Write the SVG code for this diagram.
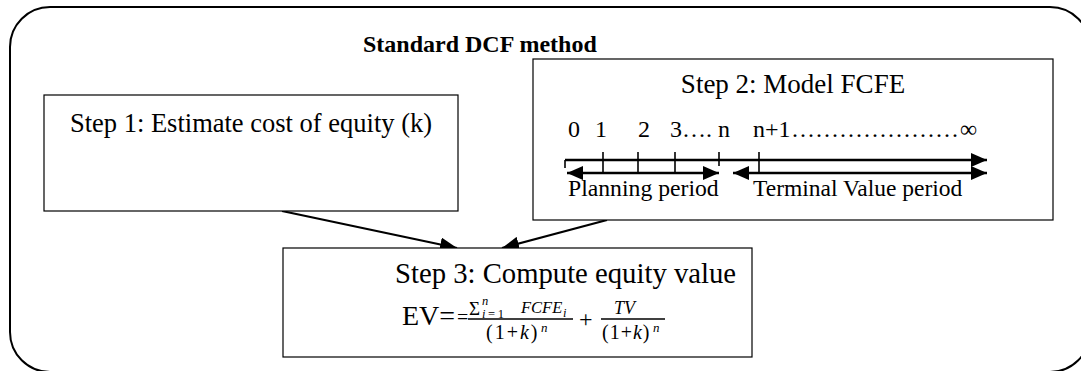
<svg xmlns="http://www.w3.org/2000/svg" width="1081" height="371" viewBox="0 0 1081 371">
  <style>
    .frame { fill: none; stroke: #000; stroke-width: 2; }
    .box { fill: #fff; stroke: #000; stroke-width: 1.2; }
    .txt { font-family: "Liberation Serif", "Times New Roman", serif; fill: #000; }
    .math { font-family: "Liberation Serif", "Times New Roman", serif; font-style: italic; fill: #000; }
    .conn { fill: none; stroke: #000; stroke-width: 2.2; }
    .axis { fill: none; stroke: #000; stroke-width: 2.4; }
    .tick { fill: none; stroke: #000; stroke-width: 1.6; }
    .bar { stroke: #000; stroke-width: 1.4; }
  </style>
  <defs>
    <marker id="head" markerUnits="userSpaceOnUse" markerWidth="18" markerHeight="14" refX="17" refY="7" orient="auto-start-reverse">
      <path d="M0,0 L17,7 L0,14 Z" fill="#000"/>
    </marker>
    <marker id="axisHead" markerUnits="userSpaceOnUse" markerWidth="17" markerHeight="14" refX="16" refY="7" orient="auto-start-reverse">
      <path d="M0,0 L16,7 L0,14 Z" fill="#000"/>
    </marker>
  </defs>

  <!-- outer rounded frame -->
  <rect class="frame" x="10" y="7" width="1080" height="365" rx="40" ry="40"/>
  <text class="txt" x="363" y="52" font-size="24" font-weight="bold">Standard DCF method</text>

  <!-- connectors -->
  <g id="connectors">
    <line class="conn" x1="282" y1="211" x2="457" y2="248" marker-end="url(#head)"/>
    <line class="conn" x1="607" y1="220" x2="502" y2="248" marker-end="url(#head)"/>
  </g>

  <!-- step 1 -->
  <g id="step1">
    <rect class="box" x="44" y="95" width="414" height="116"/>
    <text class="txt" x="251" y="132" font-size="26.5" text-anchor="middle">Step 1: Estimate cost of equity (k)</text>
  </g>

  <!-- step 2 with timeline -->
  <g id="step2">
    <rect class="box" x="533" y="59" width="520" height="161"/>
    <text class="txt" x="793" y="93" font-size="27" text-anchor="middle">Step 2: Model FCFE</text>
    <g class="txt" font-size="24">
      <text x="568" y="137">0</text>
      <text x="595" y="137">1</text>
      <text x="638" y="137">2</text>
      <text x="670" y="137">3…. n</text>
      <text x="753" y="137">n+1<tspan x="792" textLength="166" lengthAdjust="spacing">.....................</tspan><tspan x="960">∞</tspan></text>
    </g>
    <!-- time axis -->
    <line class="axis" x1="565" y1="160" x2="987" y2="160" marker-end="url(#axisHead)"/>
    <line class="tick" x1="565" y1="160" x2="565" y2="168"/>
    <line class="tick" x1="603" y1="152" x2="603" y2="172"/>
    <line class="tick" x1="638" y1="152" x2="638" y2="172"/>
    <line class="tick" x1="675" y1="152" x2="675" y2="172"/>
    <line class="tick" x1="719" y1="152" x2="719" y2="166"/>
    <line class="tick" x1="759" y1="152" x2="759" y2="172"/>
    <!-- period spans -->
    <line class="axis" x1="567" y1="173" x2="719" y2="173" marker-start="url(#axisHead)" marker-end="url(#axisHead)"/>
    <line class="axis" x1="733" y1="173" x2="987" y2="173" marker-start="url(#axisHead)" marker-end="url(#axisHead)"/>
    <text class="txt" x="568" y="196" font-size="23.7">Planning period</text>
    <text class="txt" x="753" y="196" font-size="23.5">Terminal Value period</text>
  </g>

  <!-- step 3 with valuation formula -->
  <g id="step3">
    <rect class="box" x="283" y="248" width="469" height="109"/>
    <text class="txt" x="395" y="283" font-size="28.7">Step 3: Compute equity value</text>
    <text class="txt" x="402" y="325" font-size="28">EV=</text>
    <text class="txt" x="457" y="324" font-size="20">=</text>
    <!-- first fraction: sum of FCFE over (1+k)^n -->
    <text class="txt" x="469" y="315" font-size="19">Σ</text>
    <text class="math" x="482" y="305" font-size="12.5">n</text>
    <text class="math" x="482" y="318" font-size="12.5" textLength="22" lengthAdjust="spacing">i<tspan font-style="normal">=1</tspan></text>
    <text class="math" x="521" y="313" font-size="16.5">FCFE</text>
    <text class="math" x="563" y="317" font-size="12.5">i</text>
    <line class="bar" x1="468" y1="319" x2="573" y2="319"/>
    <text class="txt" x="486" y="339" font-size="20" letter-spacing="2">(1+<tspan font-style="italic">k</tspan>)</text>
    <text class="math" x="541" y="332" font-size="13">n</text>
    <!-- plus -->
    <text class="txt" x="579" y="327" font-size="24">+</text>
    <!-- second fraction: terminal value over (1+k)^n -->
    <text class="math" x="614" y="314" font-size="18">TV</text>
    <line class="bar" x1="601" y1="319" x2="665" y2="319"/>
    <text class="txt" x="602" y="339" font-size="20" letter-spacing="1">(1+<tspan font-style="italic">k</tspan>)</text>
    <text class="math" x="653" y="332" font-size="13">n</text>
  </g>
</svg>
